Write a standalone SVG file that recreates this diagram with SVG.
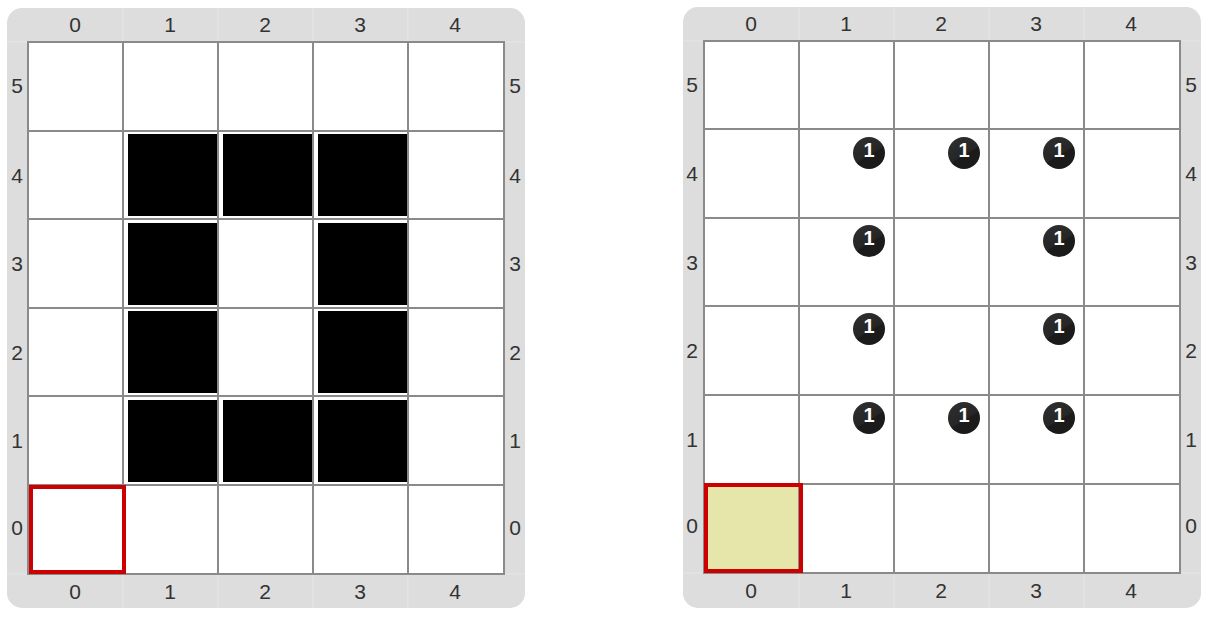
<svg xmlns="http://www.w3.org/2000/svg" width="1217" height="621" viewBox="0 0 1217 621">
<style>
.bg{fill:#dddddd}
.cell{fill:#ffffff}
.grid{fill:none;stroke:#8a8a8a;stroke-width:2}
.sep{stroke:#e6e6e6;stroke-width:1}
.blk{fill:#000000}
.lbl{font-family:"Liberation Sans",Arial,sans-serif;font-size:21px;fill:#333333;text-anchor:middle}
.sel{stroke:#cc0000;stroke-width:4}
.badge{fill:url(#bg1)}
.num{font-family:"Liberation Sans",Arial,sans-serif;font-size:20px;font-weight:bold;fill:#ffffff;text-anchor:middle}
</style>
<defs>
<linearGradient id="bg1" x1="0" y1="0" x2="0.6" y2="1">
<stop offset="0" stop-color="#303030"/>
<stop offset="0.62" stop-color="#262626"/>
<stop offset="0.66" stop-color="#1b1b1b"/>
<stop offset="1" stop-color="#1b1b1b"/>
</linearGradient>
</defs>
<g id="left-board">
<rect class="bg" x="7" y="8" width="518" height="600" rx="15"/>
<g class="sep">
<line x1="123" y1="8" x2="123" y2="42"/><line x1="218" y1="8" x2="218" y2="42"/><line x1="313" y1="8" x2="313" y2="42"/><line x1="408" y1="8" x2="408" y2="42"/>
<line x1="123" y1="574" x2="123" y2="608"/><line x1="218" y1="574" x2="218" y2="608"/><line x1="313" y1="574" x2="313" y2="608"/><line x1="408" y1="574" x2="408" y2="608"/>
<line x1="7" y1="42" x2="28" y2="42"/><line x1="504" y1="42" x2="525" y2="42"/>
<line x1="7" y1="574" x2="28" y2="574"/><line x1="504" y1="574" x2="525" y2="574"/>
</g>
<rect class="cell" x="28" y="42" width="476" height="532"/>
<g>
<rect class="blk" x="128" y="134" width="89" height="82"/>
<rect class="blk" x="223" y="134" width="89" height="82"/>
<rect class="blk" x="318" y="134" width="89" height="82"/>
<rect class="blk" x="128" y="223" width="89" height="82"/>
<rect class="blk" x="318" y="223" width="89" height="82"/>
<rect class="blk" x="128" y="311" width="89" height="82"/>
<rect class="blk" x="318" y="311" width="89" height="82"/>
<rect class="blk" x="128" y="400" width="89" height="82"/>
<rect class="blk" x="223" y="400" width="89" height="82"/>
<rect class="blk" x="318" y="400" width="89" height="82"/>
</g>
<path class="grid" d="M28 42H504V574H28Z M123 42V574 M218 42V574 M313 42V574 M408 42V574 M28 131H504 M28 219H504 M28 308H504 M28 396H504 M28 485H504"/>
<rect class="sel" x="31" y="487" width="93" height="85" fill="none"/>
<g class="lbl">
<text x="75" y="32">0</text><text x="170" y="32">1</text><text x="265" y="32">2</text><text x="360" y="32">3</text><text x="455" y="32">4</text>
<text x="75" y="599">0</text><text x="170" y="599">1</text><text x="265" y="599">2</text><text x="360" y="599">3</text><text x="455" y="599">4</text>
<text x="17" y="93">5</text><text x="17" y="183">4</text><text x="17" y="271">3</text><text x="17" y="360">2</text><text x="17" y="448">1</text><text x="17" y="535">0</text>
<text x="515" y="93">5</text><text x="515" y="183">4</text><text x="515" y="271">3</text><text x="515" y="360">2</text><text x="515" y="448">1</text><text x="515" y="535">0</text>
</g>
</g>
<g id="right-board">
<rect class="bg" x="683" y="7" width="518" height="601" rx="15"/>
<g class="sep">
<line x1="799" y1="7" x2="799" y2="41"/><line x1="894" y1="7" x2="894" y2="41"/><line x1="989" y1="7" x2="989" y2="41"/><line x1="1084" y1="7" x2="1084" y2="41"/>
<line x1="799" y1="573" x2="799" y2="608"/><line x1="894" y1="573" x2="894" y2="608"/><line x1="989" y1="573" x2="989" y2="608"/><line x1="1084" y1="573" x2="1084" y2="608"/>
<line x1="683" y1="41" x2="704" y2="41"/><line x1="1180" y1="41" x2="1201" y2="41"/>
<line x1="683" y1="573" x2="704" y2="573"/><line x1="1180" y1="573" x2="1201" y2="573"/>
</g>
<rect class="cell" x="704" y="41" width="476" height="532"/>
<rect x="706" y="485" width="94" height="86" fill="#e6e6aa"/>
<path class="grid" d="M704 41H1180V573H704Z M799 41V573 M894 41V573 M989 41V573 M1084 41V573 M704 129H1180 M704 218H1180 M704 306H1180 M704 395H1180 M704 484H1180"/>
<rect class="sel" x="706" y="485" width="95" height="86" fill="none"/>
<g class="lbl">
<text x="751" y="31">0</text><text x="846" y="31">1</text><text x="941" y="31">2</text><text x="1036" y="31">3</text><text x="1131" y="31">4</text>
<text x="751" y="598">0</text><text x="846" y="598">1</text><text x="941" y="598">2</text><text x="1036" y="598">3</text><text x="1131" y="598">4</text>
<text x="692" y="92">5</text><text x="692" y="181">4</text><text x="692" y="270">3</text><text x="692" y="358">2</text><text x="692" y="447">1</text><text x="692" y="533">0</text>
<text x="1191" y="92">5</text><text x="1191" y="181">4</text><text x="1191" y="270">3</text><text x="1191" y="358">2</text><text x="1191" y="447">1</text><text x="1191" y="533">0</text>
</g>
</g>
<g id="badges">
<g id="b-1-4"><circle class="badge" cx="869" cy="153" r="16"/><text class="num" x="869" y="157">1</text></g>
<g id="b-2-4"><circle class="badge" cx="964" cy="153" r="16"/><text class="num" x="964" y="157">1</text></g>
<g id="b-3-4"><circle class="badge" cx="1059" cy="153" r="16"/><text class="num" x="1059" y="157">1</text></g>
<g id="b-1-3"><circle class="badge" cx="869" cy="241" r="16"/><text class="num" x="869" y="245">1</text></g>
<g id="b-3-3"><circle class="badge" cx="1059" cy="241" r="16"/><text class="num" x="1059" y="245">1</text></g>
<g id="b-1-2"><circle class="badge" cx="869" cy="329" r="16"/><text class="num" x="869" y="333">1</text></g>
<g id="b-3-2"><circle class="badge" cx="1059" cy="329" r="16"/><text class="num" x="1059" y="333">1</text></g>
<g id="b-1-1"><circle class="badge" cx="869" cy="418" r="16"/><text class="num" x="869" y="422">1</text></g>
<g id="b-2-1"><circle class="badge" cx="964" cy="418" r="16"/><text class="num" x="964" y="422">1</text></g>
<g id="b-3-1"><circle class="badge" cx="1059" cy="418" r="16"/><text class="num" x="1059" y="422">1</text></g>
</g>
</svg>
